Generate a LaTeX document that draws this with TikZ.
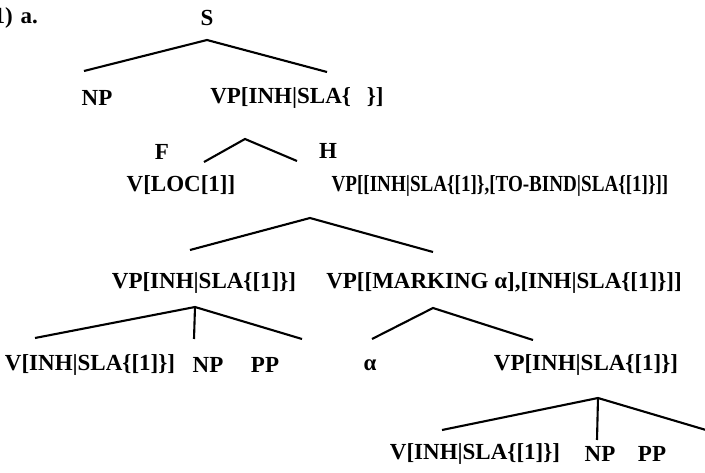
\documentclass[tikz,border=0pt]{standalone}
\usepackage{fontspec}
\setmainfont{Liberation Serif}
\begin{document}
\begin{tikzpicture}[x=1pt,y=-1pt,
  lbl/.style={inner sep=0pt,font=\fontsize{23}{27}\selectfont\bfseries},
  branch/.style={line width=2.1pt}]
\useasboundingbox (0,0) rectangle (705,473);
\clip (0,0) rectangle (705,473);

% labels
\node[lbl,anchor=east] (ex) at (38,18) {(1)\,\,a.};
\node[lbl] (s) at (207,18) {S};
\node[lbl] (np1) at (97,98) {NP};
\node[lbl] (vp1) at (297,98) {VP[INH|SLA\{\hspace{16pt}\}]};
\node[lbl] (f) at (162,152) {F};
\node[lbl] (h) at (328,151) {H};
\node[lbl] (vloc) at (181,185) {V[LOC[1]]};
\node[lbl] (vp2) at (500,186) {\scalebox{0.83}[1]{VP[[INH|SLA\{[1]\},[TO-BIND|SLA\{[1]\}]]}};
\node[lbl] (vp3) at (204,283) {VP[INH|SLA\{[1]\}]};
\node[lbl] (vp4) at (504,283) {VP[[MARKING α],[INH|SLA\{[1]\}]]};
\node[lbl] (v1) at (90,365) {V[INH|SLA\{[1]\}]};
\node[lbl] (np2) at (208,365) {NP};
\node[lbl] (pp1) at (265,365) {PP};
\node[lbl] (al) at (370,365) {α};
\node[lbl] (vp5) at (586,365) {VP[INH|SLA\{[1]\}]};
\node[lbl] (v2) at (475,454) {V[INH|SLA\{[1]\}]};
\node[lbl] (np3) at (600,454) {NP};
\node[lbl] (pp2) at (652,454) {PP};

% branch points
\coordinate (sA) at (207,40);
\coordinate (sL) at (84,71);
\coordinate (sR) at (327,72);
\coordinate (vp1A) at (245,139);
\coordinate (vp1L) at (204,162);
\coordinate (vp1R) at (297,161);
\coordinate (vp2A) at (310,218);
\coordinate (vp2L) at (190,250);
\coordinate (vp2R) at (433,252);
\coordinate (vp3A) at (195,307);
\coordinate (vp3L) at (35,338);
\coordinate (vp3M) at (194,339);
\coordinate (vp3R) at (302,339);
\coordinate (vp4A) at (433,308);
\coordinate (vp4L) at (372,339);
\coordinate (vp4R) at (533,340);
\coordinate (vp5A) at (598,398);
\coordinate (vp5L) at (442,430);
\coordinate (vp5M) at (597,440);
\coordinate (vp5R) at (706,430);

% branches
\draw[branch] (sL) -- (sA) -- (sR);
\draw[branch] (vp1L) -- (vp1A) -- (vp1R);
\draw[branch] (vp2L) -- (vp2A) -- (vp2R);
\draw[branch] (vp3L) -- (vp3A) -- (vp3R);
\draw[branch] (vp3A) -- (vp3M);
\draw[branch] (vp4L) -- (vp4A) -- (vp4R);
\draw[branch] (vp5L) -- (vp5A) -- (vp5R);
\draw[branch] (vp5A) -- (vp5M);
\end{tikzpicture}
\end{document}
